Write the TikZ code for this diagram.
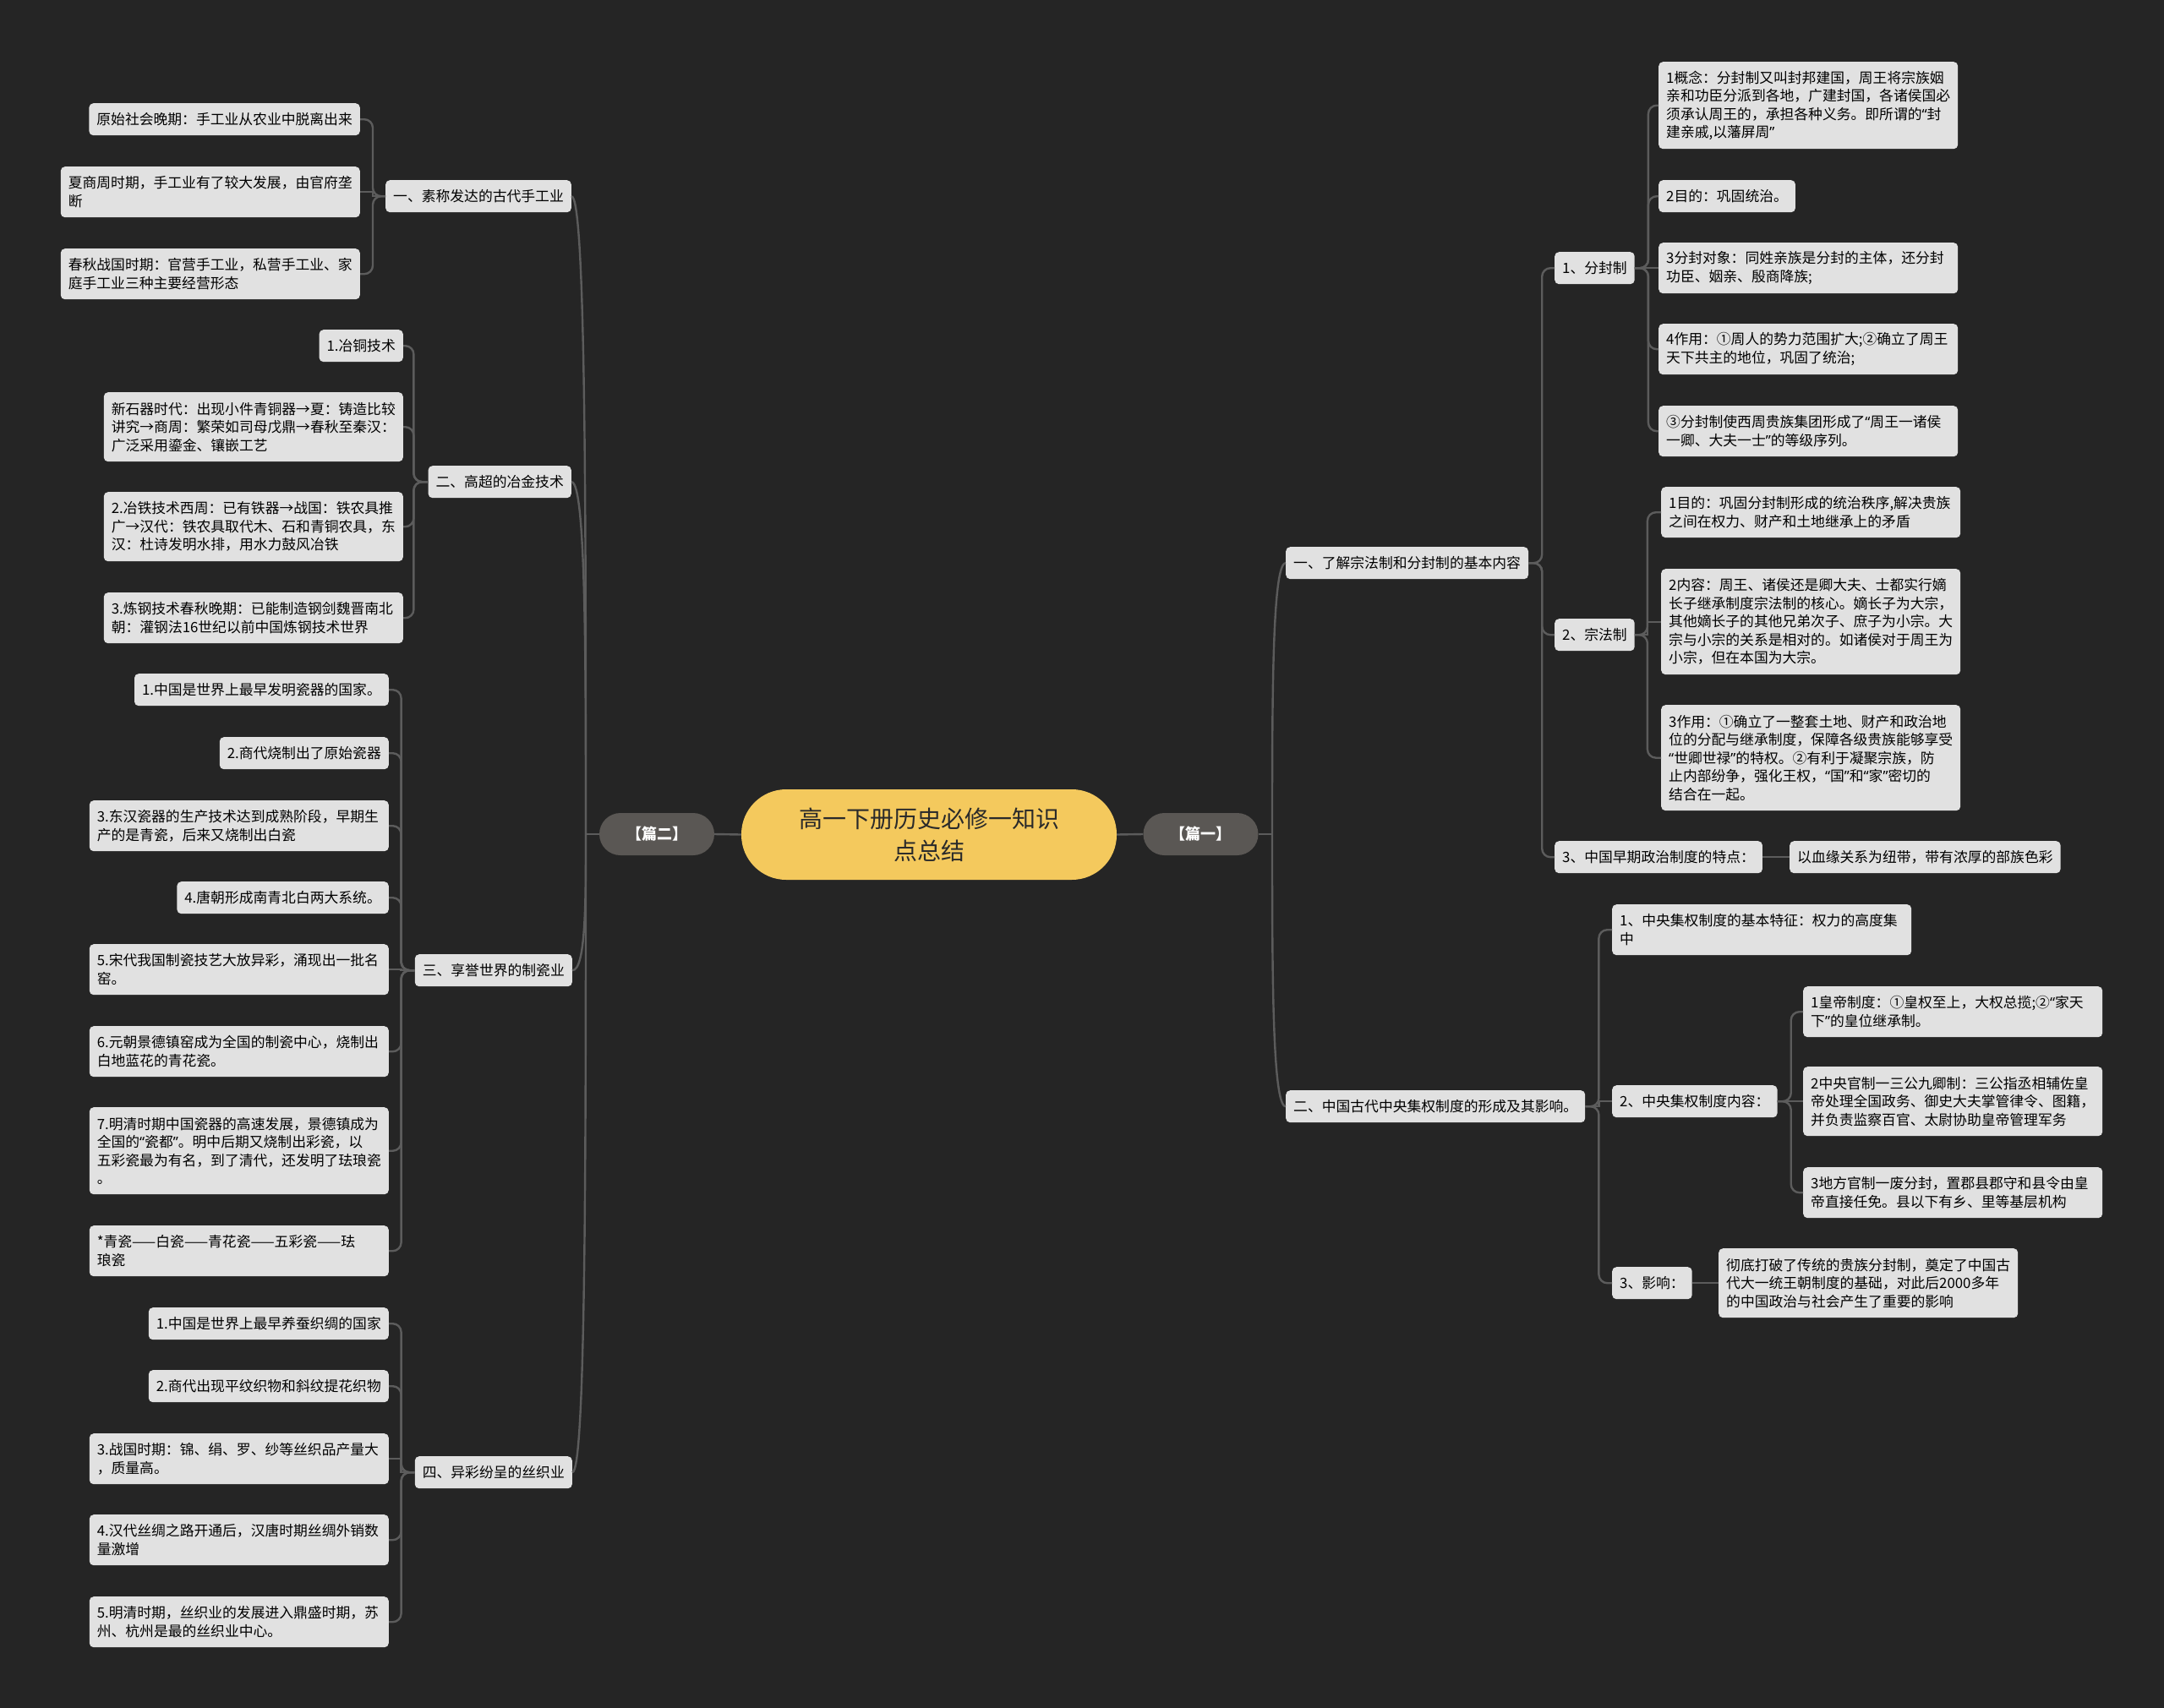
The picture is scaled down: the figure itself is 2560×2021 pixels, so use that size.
\documentclass[tikz,border=0pt]{standalone}
\usepackage{fontspec}
\setmainfont{Noto Sans CJK SC}
\newfontfamily\quotefont{Noto Sans}
\newcommand{\oq}{{\quotefont “}}
\newcommand{\cq}{{\quotefont ”}}
\definecolor{bgdark}{HTML}{252525}
\definecolor{boxfill}{HTML}{E1E1E1}
\definecolor{linkgray}{HTML}{5C5C5C}
\definecolor{pianfill}{HTML}{5A5754}
\definecolor{rootfill}{HTML}{F4C95D}
\definecolor{rootink}{HTML}{2A2A2A}

\begin{document}
\begin{tikzpicture}[x=1pt, y=-1pt,
    leaf/.style={fill=boxfill, rounded corners=5pt, inner xsep=9pt, inner ysep=0pt, minimum height=#1, text=black, font=\fontsize{16.8}{21.5}\selectfont},
    leaf/.default=38,
    para/.style={leaf=#1, text width=336pt, align=left},
    para/.default=60,
    link/.style={draw=linkgray, line width=2.4pt, rounded corners=10pt},
    pian/.style={fill=pianfill, rounded corners=25pt, minimum width=136pt, minimum height=50pt, text=white, font=\fontsize{18}{20}\selectfont\bfseries},
    root/.style={fill=rootfill, rounded corners=53pt, minimum width=444pt, minimum height=107pt, align=center, text=rootink, font=\fontsize{28}{37.7}\selectfont}]
    \useasboundingbox (0,0) rectangle (2560,2021);
    \fill[bgdark] (0,0) rectangle (2560,2021);

    \node[root] (root) at (1099,987.5) {高一下册历史必修一知识\\点总结};
    \node[pian] (p2) at (777,987) {【篇二】};
    \node[pian] (p1) at (1420.5,987) {【篇一】};
    \coordinate (jl) at (693,987);
    \coordinate (jr) at (1505,987);

    \node[leaf, anchor=north east] (s1) at (676,213) {一、素称发达的古代手工业};
    \node[leaf, anchor=north east] (a1) at (426,122) {原始社会晚期：手工业从农业中脱离出来};
    \node[para, anchor=north east] (a2) at (426,197) {夏商周时期，手工业有了较大发展，由官府垄\\断};
    \node[para, anchor=north east] (a3) at (426,294) {春秋战国时期：官营手工业，私营手工业、家\\庭手工业三种主要经营形态};

    \node[leaf, anchor=north east] (s2) at (676,551) {二、高超的冶金技术};
    \node[leaf, anchor=north east] (b1) at (477,390) {1.冶铜技术};
    \node[para=82, anchor=north east] (b2) at (477,464) {新石器时代：出现小件青铜器→夏：铸造比较\\讲究→商周：繁荣如司母戊鼎→春秋至秦汉：\\广泛采用鎏金、镶嵌工艺};
    \node[para=82, anchor=north east] (b3) at (477,582) {2.冶铁技术西周：已有铁器→战国：铁农具推\\广→汉代：铁农具取代木、石和青铜农具，东\\汉：杜诗发明水排，用水力鼓风冶铁};
    \node[para, anchor=north east] (b4) at (477,701) {3.炼钢技术春秋晚期：已能制造钢剑魏晋南北\\朝：灌钢法16世纪以前中国炼钢技术世界};

    \node[leaf, anchor=north east] (s3) at (677,1129) {三、享誉世界的制瓷业};
    \node[leaf, anchor=north east] (c1) at (460,797) {1.中国是世界上最早发明瓷器的国家。};
    \node[leaf, anchor=north east] (c2) at (460,872) {2.商代烧制出了原始瓷器};
    \node[para, anchor=north east] (c3) at (460,947) {3.东汉瓷器的生产技术达到成熟阶段，早期生\\产的是青瓷，后来又烧制出白瓷};
    \node[leaf, anchor=north east] (c4) at (460,1043) {4.唐朝形成南青北白两大系统。};
    \node[para, anchor=north east] (c5) at (460,1117) {5.宋代我国制瓷技艺大放异彩，涌现出一批名\\窑。};
    \node[para, anchor=north east] (c6) at (460,1214) {6.元朝景德镇窑成为全国的制瓷中心，烧制出\\白地蓝花的青花瓷。};
    \node[para=103, anchor=north east] (c7) at (460,1310) {7.明清时期中国瓷器的高速发展，景德镇成为\\全国的\oq 瓷都\cq 。明中后期又烧制出彩瓷，以\\五彩瓷最为有名，到了清代，还发明了珐琅瓷\\。};
    \node[para, anchor=north east] (c8) at (460,1450) {*青瓷——白瓷——青花瓷——五彩瓷——珐\\琅瓷};

    \node[leaf, anchor=north east] (s4) at (677,1723) {四、异彩纷呈的丝织业};
    \node[leaf, anchor=north east] (d1) at (460,1547) {1.中国是世界上最早养蚕织绸的国家};
    \node[leaf, anchor=north east] (d2) at (460,1621) {2.商代出现平纹织物和斜纹提花织物};
    \node[para, anchor=north east] (d3) at (460,1696) {3.战国时期：锦、绢、罗、纱等丝织品产量大\\，质量高。};
    \node[para, anchor=north east] (d4) at (460,1792) {4.汉代丝绸之路开通后，汉唐时期丝绸外销数\\量激增};
    \node[para, anchor=north east] (d5) at (460,1889) {5.明清时期，丝织业的发展进入鼎盛时期，苏\\州、杭州是最的丝织业中心。};

    \node[leaf, anchor=north west] (m1) at (1521,647) {一、了解宗法制和分封制的基本内容};
    \node[leaf, anchor=north west] (f0) at (1839,298) {1、分封制};
    \node[para=103, anchor=north west] (f1) at (1962,73) {1概念：分封制又叫封邦建国，周王将宗族姻\\亲和功臣分派到各地，广建封国，各诸侯国必\\须承认周王的，承担各种义务。即所谓的\oq 封\\建亲戚,以藩屏周\cq};
    \node[leaf, anchor=north west] (f2) at (1962,213) {2目的：巩固统治。};
    \node[para, anchor=north west] (f3) at (1962,287) {3分封对象：同姓亲族是分封的主体，还分封\\功臣、姻亲、殷商降族;};
    \node[para, anchor=north west] (f4) at (1962,383) {4作用：①周人的势力范围扩大;②确立了周王\\天下共主的地位，巩固了统治;};
    \node[para, anchor=north west] (f5) at (1962,480) {③分封制使西周贵族集团形成了\oq 周王一诸侯\\一卿、大夫一士\cq 的等级序列。};
    \node[leaf, anchor=north west] (z0) at (1839,732) {2、宗法制};
    \node[para, anchor=north west] (z1) at (1965,576) {1目的：巩固分封制形成的统治秩序,解决贵族\\之间在权力、财产和土地继承上的矛盾};
    \node[para=125, anchor=north west] (z2) at (1965,673) {2内容：周王、诸侯还是卿大夫、士都实行嫡\\长子继承制度宗法制的核心。嫡长子为大宗，\\其他嫡长子的其他兄弟次子、庶子为小宗。大\\宗与小宗的关系是相对的。如诸侯对于周王为\\小宗，但在本国为大宗。};
    \node[para=125, anchor=north west] (z3) at (1965,834) {3作用：①确立了一整套土地、财产和政治地\\位的分配与继承制度，保障各级贵族能够享受\\\oq 世卿世禄\cq 的特权。②有利于凝聚宗族，防\\止内部纷争，强化王权，\oq 国\cq 和\oq 家\cq 密切的\\结合在一起。};
    \node[leaf, anchor=north west] (t0) at (1839,995) {3、中国早期政治制度的特点：};
    \node[leaf, anchor=north west] (t1) at (2117,995) {以血缘关系为纽带，带有浓厚的部族色彩};

    \node[leaf, anchor=north west] (m2) at (1521,1290) {二、中国古代中央集权制度的形成及其影响。};
    \node[para, anchor=north west] (k1) at (1907,1070) {1、中央集权制度的基本特征：权力的高度集\\中};
    \node[leaf, anchor=north west] (k2) at (1907,1284) {2、中央集权制度内容：};
    \node[para, anchor=north west] (g1) at (2133,1167) {1皇帝制度：①皇权至上，大权总揽;②\oq 家天\\下\cq 的皇位继承制。};
    \node[para=82, anchor=north west] (g2) at (2133,1262) {2中央官制一三公九卿制：三公指丞相辅佐皇\\帝处理全国政务、御史大夫掌管律令、图籍，\\并负责监察百官、太尉协助皇帝管理军务};
    \node[para, anchor=north west] (g3) at (2133,1381) {3地方官制一废分封，置郡县郡守和县令由皇\\帝直接任免。县以下有乡、里等基层机构};
    \node[leaf, anchor=north west] (k3) at (1907,1499) {3、影响：};
    \node[para=82, anchor=north west] (e1) at (2033,1477) {彻底打破了传统的贵族分封制，奠定了中国古\\代大一统王朝制度的基础，对此后2000多年\\的中国政治与社会产生了重要的影响};

    \draw[link] (root.west) -- (p2.east);
    \draw[link] (root.east) -- (p1.west);
    \draw[link] (p2.west) -- (jl);
    \draw[link] (p1.east) -- (jr);
    \draw[link] (jl) .. controls +(0,-380) and +(17,0) .. (s1.east);
    \draw[link] (jl) .. controls +(0,-210) and +(17,0) .. (s2.east);
    \draw[link] (jl) .. controls +(0,80) and +(16,0) .. (s3.east);
    \draw[link] (jl) .. controls +(0,380) and +(16,0) .. (s4.east);
    \draw[link] (jr) .. controls +(0,-160) and +(-16,0) .. (m1.west);
    \draw[link] (jr) .. controls +(0,160) and +(-16,0) .. (m2.west);

    \draw[link] (s1.west) -- ++(-15,0) |- (a1.east);
    \draw[link, sharp corners] (s1.west) -- ++(-15,0) |- (a2.east);
    \draw[link] (s1.west) -- ++(-15,0) |- (a3.east);
    \draw[link] (s2.west) -- ++(-17,0) |- (b1.east);
    \draw[link] (s2.west) -- ++(-17,0) |- (b2.east);
    \draw[link] (s2.west) -- ++(-17,0) |- (b3.east);
    \draw[link] (s2.west) -- ++(-17,0) |- (b4.east);
    \draw[link] (s3.west) -- ++(-16,0) |- (c1.east);
    \draw[link] (s3.west) -- ++(-16,0) |- (c2.east);
    \draw[link] (s3.west) -- ++(-16,0) |- (c3.east);
    \draw[link] (s3.west) -- ++(-16,0) |- (c4.east);
    \draw[link, sharp corners] (s3.west) -- ++(-16,0) |- (c5.east);
    \draw[link] (s3.west) -- ++(-16,0) |- (c6.east);
    \draw[link] (s3.west) -- ++(-16,0) |- (c7.east);
    \draw[link] (s3.west) -- ++(-16,0) |- (c8.east);
    \draw[link] (s4.west) -- ++(-16,0) |- (d1.east);
    \draw[link] (s4.west) -- ++(-16,0) |- (d2.east);
    \draw[link, sharp corners] (s4.west) -- ++(-16,0) |- (d3.east);
    \draw[link] (s4.west) -- ++(-16,0) |- (d4.east);
    \draw[link] (s4.west) -- ++(-16,0) |- (d5.east);

    \draw[link] (m1.east) -- ++(16,0) |- (f0.west);
    \draw[link] (m1.east) -- ++(16,0) |- (z0.west);
    \draw[link] (m1.east) -- ++(16,0) |- (t0.west);
    \draw[link] (f0.east) -- ++(16,0) |- (f1.west);
    \draw[link] (f0.east) -- ++(16,0) |- (f2.west);
    \draw[link] (f0.east) -- (f3.west);
    \draw[link] (f0.east) -- ++(16,0) |- (f4.west);
    \draw[link] (f0.east) -- ++(16,0) |- (f5.west);
    \draw[link] (z0.east) -- ++(15,0) |- (z1.west);
    \draw[link, sharp corners] (z0.east) -- ++(15,0) |- (z2.west);
    \draw[link] (z0.east) -- ++(15,0) |- (z3.west);
    \draw[link] (t0.east) -- (t1.west);
    \draw[link] (m2.east) -- ++(16,0) |- (k1.west);
    \draw[link, sharp corners] (m2.east) -- ++(16,0) |- (k2.west);
    \draw[link] (m2.east) -- ++(16,0) |- (k3.west);
    \draw[link] (k2.east) -- ++(16,0) |- (g1.west);
    \draw[link] (k2.east) -- (g2.west);
    \draw[link] (k2.east) -- ++(16,0) |- (g3.west);
    \draw[link] (k3.east) -- (e1.west);
\end{tikzpicture}
\end{document}
